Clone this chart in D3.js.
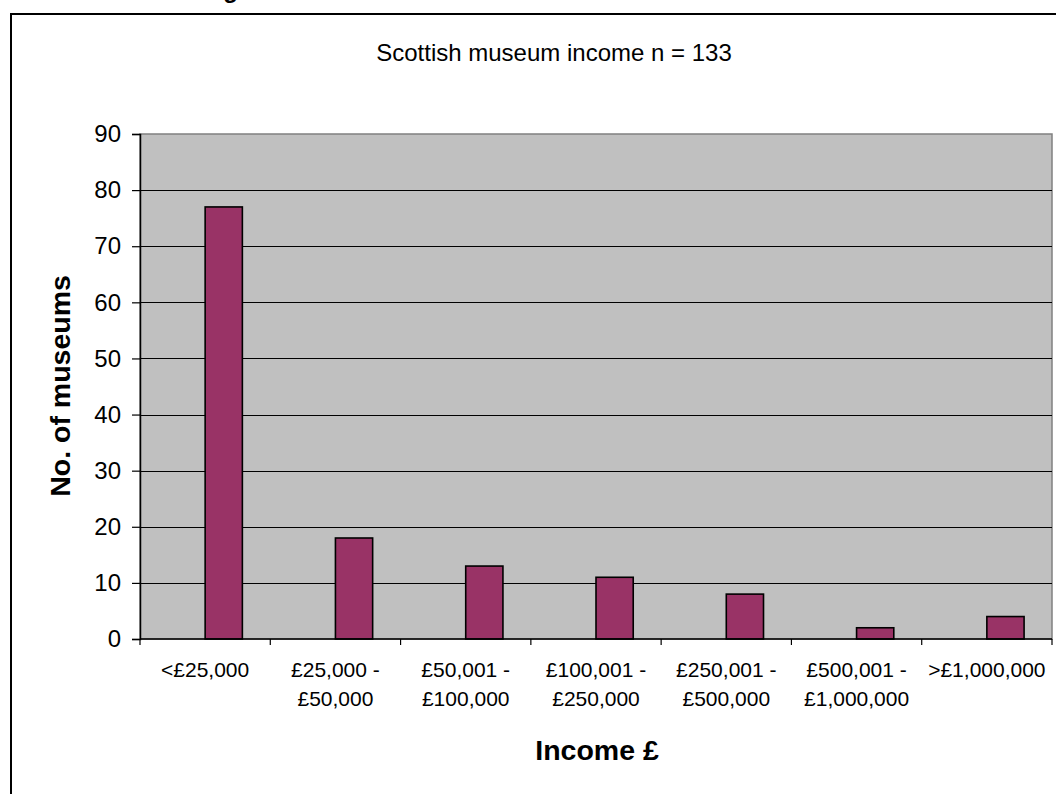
<!DOCTYPE html>
<html>
<head>
<meta charset="utf-8">
<script src="https://cdn.jsdelivr.net/npm/d3@7"></script>
<style>
  html, body { margin: 0; padding: 0; background: #ffffff; overflow: hidden; }
  svg { display: block; font-family: "Liberation Sans", Arial, sans-serif; }
</style>
</head>
<body>
<svg id="chart" width="1056" height="794"></svg>
<script>
// Income bands and number of museums in each band
const categories = [
  ["<£25,000"],
  ["£25,000 -", "£50,000"],
  ["£50,001 -", "£100,000"],
  ["£100,001 -", "£250,000"],
  ["£250,001 -", "£500,000"],
  ["£500,001 -", "£1,000,000"],
  [">£1,000,000"]
];
const museums = [77, 18, 13, 11, 8, 2, 4];
const yTicks = [0, 10, 20, 30, 40, 50, 60, 70, 80, 90];
const titleText = "Scottish museum income n = 133";
const xTitle = "Income £";
const yTitle = "No. of museums";

const svg = d3.select("#chart");

// Heading above the chart frame (runs off the top of the page)
svg.append("text")
  .attr("x", 202).attr("y", -2)
  .attr("font-size", 24).attr("font-weight", "bold")
  .attr("fill", "#000")
  .text("Figure");

// Chart frame
svg.append("rect")
  .attr("x", 11).attr("y", 14)
  .attr("width", 1100).attr("height", 900)
  .attr("fill", "#fff").attr("stroke", "#000").attr("stroke-width", 2);

const plot = { left: 140, right: 1052, top: 134, bottom: 639 };
const keys = categories.map(c => c.join(" "));

const x = d3.scaleBand().domain(keys).range([plot.left, plot.right]).padding(0);
const y = d3.scaleLinear().domain([0, 90]).range([plot.bottom, plot.top]);

// Plot area background
svg.append("rect")
  .attr("x", plot.left).attr("y", plot.top)
  .attr("width", plot.right - plot.left).attr("height", plot.bottom - plot.top)
  .attr("fill", "#c0c0c0").attr("stroke", "#808080").attr("stroke-width", 1.5);

// Horizontal gridlines
svg.append("g")
  .selectAll("line")
  .data(yTicks.filter(t => t > 0 && t < 90))
  .join("line")
  .attr("x1", plot.left).attr("x2", plot.right)
  .attr("y1", d => Math.round(y(d)) + 0.5).attr("y2", d => Math.round(y(d)) + 0.5)
  .attr("stroke", "#000").attr("stroke-width", 1);

// Bars: columns laid out as in a two-series group with 150% gap,
// the visible series occupying the right half of each group
const barW = x.bandwidth() / 3.5;
svg.append("g")
  .selectAll("rect")
  .data(museums)
  .join("rect")
  .attr("x", (d, i) => x(keys[i]) + x.bandwidth() / 2)
  .attr("y", d => y(d))
  .attr("width", barW)
  .attr("height", d => y(0) - y(d))
  .attr("fill", "#993366")
  .attr("stroke", "#000").attr("stroke-width", 1.6);

// Y axis
const yAxis = d3.axisLeft(y).tickValues(yTicks).tickSize(8).tickPadding(11);
const gy = svg.append("g")
  .attr("transform", `translate(${plot.left},0)`)
  .call(yAxis);
gy.select(".domain").attr("stroke", "#000").attr("stroke-width", 1.5);
gy.selectAll(".tick line").attr("stroke", "#000").attr("stroke-width", 1.2);
gy.selectAll(".tick text")
  .attr("font-size", 24).attr("font-family", "Liberation Sans, Arial, sans-serif")
  .attr("fill", "#000");

// X axis with ticks on band boundaries
const boundaries = keys.map(k => x(k)).concat([plot.right]);
const gx = svg.append("g");
gx.append("line")
  .attr("x1", plot.left).attr("x2", plot.right)
  .attr("y1", plot.bottom).attr("y2", plot.bottom)
  .attr("stroke", "#000").attr("stroke-width", 1.5);
gx.selectAll("line.tick")
  .data(boundaries)
  .join("line").attr("class", "tick")
  .attr("x1", d => d).attr("x2", d => d)
  .attr("y1", plot.bottom).attr("y2", plot.bottom + 6)
  .attr("stroke", "#000").attr("stroke-width", 1.2);

const labels = svg.append("g")
  .selectAll("text")
  .data(categories)
  .join("text")
  .attr("text-anchor", "middle")
  .attr("font-size", 21)
  .attr("fill", "#000")
  .attr("transform", (d, i) => `translate(${x(keys[i]) + x.bandwidth() / 2},677)`);
labels.selectAll("tspan")
  .data(d => d)
  .join("tspan")
  .attr("x", 0)
  .attr("dy", (d, i) => i === 0 ? 0 : 29)
  .text(d => d);

// Titles
svg.append("text")
  .attr("x", 554).attr("y", 61)
  .attr("text-anchor", "middle")
  .attr("font-size", 24)
  .attr("fill", "#000")
  .text(titleText);

svg.append("text")
  .attr("x", 597).attr("y", 760)
  .attr("text-anchor", "middle")
  .attr("font-size", 28.5).attr("font-weight", "bold")
  .attr("fill", "#000")
  .text(xTitle);

svg.append("text")
  .attr("transform", "translate(70,386) rotate(-90)")
  .attr("text-anchor", "middle")
  .attr("font-size", 28.5).attr("font-weight", "bold")
  .attr("fill", "#000")
  .text(yTitle);
</script>
</body>
</html>
